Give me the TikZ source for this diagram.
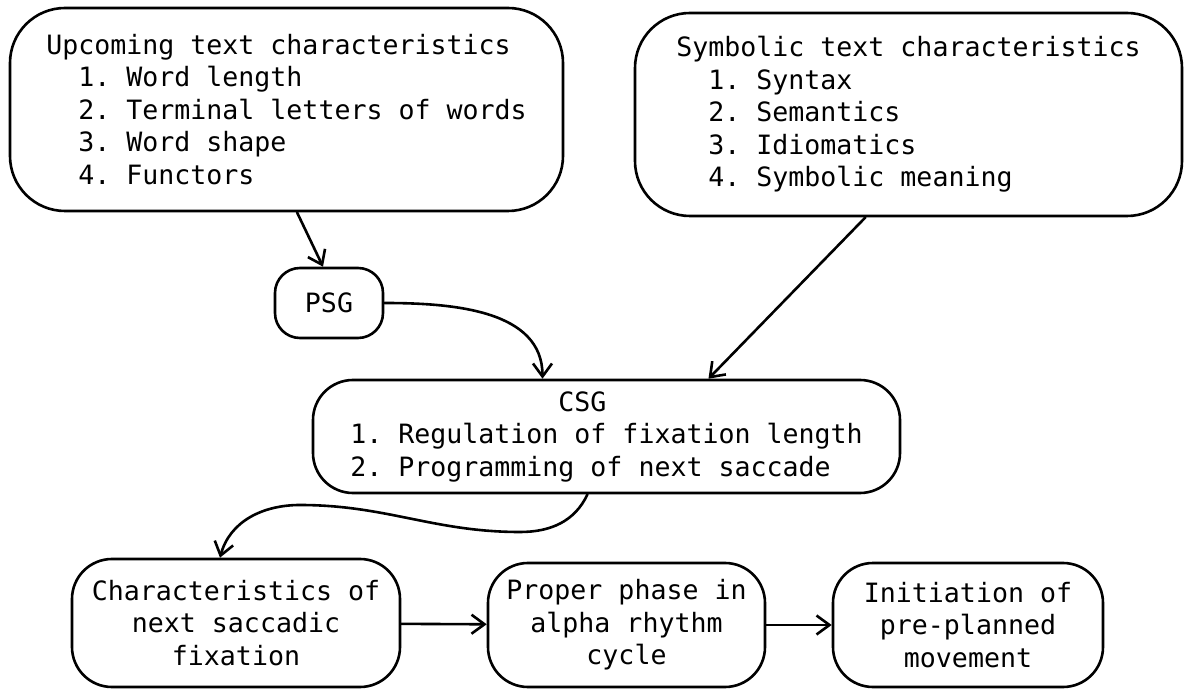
\documentclass[tikz,border=0pt]{standalone}
\usepackage{fontspec}
\setmonofont{DejaVu Sans Mono}
\usetikzlibrary{arrows.meta,calc}
\newcommand{\tabin}[1]{\hspace*{#1\fontcharwd\font`0}}
\tikzset{
  box/.style={draw,line width=2.6pt,inner sep=0pt,font=\ttfamily\fontsize{26.6}{32.5}\selectfont},
  bigbox/.style={box,rounded corners=55pt,align=left,minimum height=203pt},
  midbox/.style={box,rounded corners=40pt,align=center},
  conn/.style={line width=2.6pt,-{Straight Barb[length=13pt,width=19pt,line width=2.6pt]}}
}
\begin{document}
\begin{tikzpicture}[x=1pt,y=1pt,line join=round,line cap=round]
\useasboundingbox (0,0) rectangle (1184,689);
\node[bigbox,minimum width=553pt] (upc) at (286.5,579.5) {Upcoming text characteristics\\
\tabin{2}1. Word length\\
\tabin{2}2. Terminal letters of words\\
\tabin{2}3. Word shape\\
\tabin{2}4. Functors};
\node[bigbox,minimum width=547pt] (sym) at (908.5,574.5) {Symbolic text characteristics\\
\tabin{2}1. Syntax\\
\tabin{2}2. Semantics\\
\tabin{2}3. Idiomatics\\
\tabin{2}4. Symbolic meaning};
\node[box,rounded corners=25pt,minimum width=108pt,minimum height=70pt] (psg) at (329,386) {PSG};
\node[midbox,align=left,minimum width=587pt,minimum height=113pt] (csg) at (606.5,252.5) {\tabin{13}CSG\\
1. Regulation of fixation length\\
2. Programming of next saccade};
\node[midbox,minimum width=328pt,minimum height=128pt] (ch) at (236,66) {Characteristics of\\next saccadic\\fixation};
\node[midbox,minimum width=277pt,minimum height=124pt] (pp) at (626.5,64) {Proper phase in\\alpha rhythm\\cycle};
\node[midbox,minimum width=270pt,minimum height=124pt] (ini) at (968,64) {Initiation of\\pre-planned\\movement};
\coordinate (w1) at (520,157);
\coordinate (w2) at (300,184);
% connectors
\draw[conn] ([xshift=-32pt]psg.north |- upc.south) -- ([xshift=-6pt]psg.north);
\draw[conn] (psg.east) to[out=0,in=90] ([xshift=-64pt]csg.north);
\draw[conn] ([xshift=-43pt]sym.south) -- ([xshift=102pt]csg.north);
\draw[conn] ([xshift=-19pt]csg.south) to[out=-115,in=0] (w1) to[out=180,in=0] (w2) to[out=180,in=75] ([xshift=-16pt]ch.north);
\draw[conn] (ch) -- (pp);
\draw[conn] (pp) -- (ini);
\end{tikzpicture}
\end{document}
